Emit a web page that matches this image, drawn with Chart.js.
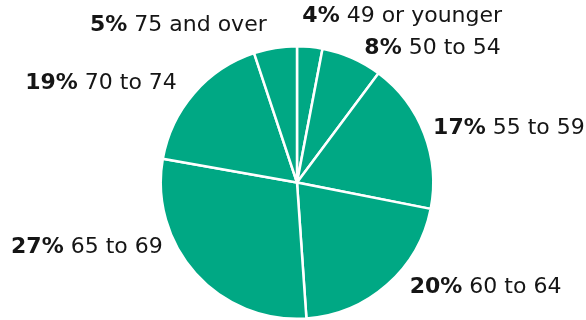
<!DOCTYPE html>
<html>
<head>
<meta charset="utf-8">
<script src="https://cdn.jsdelivr.net/npm/chart.js@4/dist/chart.umd.min.js"></script>
<style>
  html, body { margin: 0; padding: 0; background: #fff; }
  #wrap { width: 586px; height: 320px; position: relative; }
</style>
</head>
<body>
<div id="wrap"><canvas id="age-pie"></canvas></div>
<script>
// age groups, clockwise from 12 o'clock
var ageGroups = ["49 or younger", "50 to 54", "55 to 59", "60 to 64", "65 to 69", "70 to 74", "75 and over"];
// printed percentages
var pctLabels = [4, 8, 17, 20, 27, 19, 5];
// slice sizes as drawn in the picture (%)
var sliceShares = [3.0, 7.2, 17.9, 20.8, 28.9, 17.1, 5.1];

var FONT = "'DejaVu Sans', sans-serif";

// labels sit just outside each slice, nudged a bit to match the original layout
var outsideLabels = {
  id: 'outsideLabels',
  afterDatasetsDraw: function (chart, args, opts) {
    var ctx = chart.ctx;
    var meta = chart.getDatasetMeta(0);
    ctx.save();
    ctx.textBaseline = 'middle';
    ctx.fillStyle = opts.color;
    meta.data.forEach(function (arc, i) {
      var p = arc.getProps(['x', 'y', 'startAngle', 'endAngle', 'outerRadius'], true);
      var a = (p.startAngle + p.endAngle) / 2;
      var r = p.outerRadius + opts.offset;
      var nudge = opts.nudges[i] || [0, 0];
      var x = p.x + Math.cos(a) * r + nudge[0];
      var y = p.y + Math.sin(a) * r + nudge[1];
      var bold = pctLabels[i] + '%';
      var rest = ' ' + ageGroups[i];
      ctx.font = 'bold ' + opts.size + 'px ' + FONT;
      var wb = ctx.measureText(bold).width;
      ctx.font = opts.size + 'px ' + FONT;
      var wr = ctx.measureText(rest).width;
      var left = Math.cos(a) >= 0 ? x : x - wb - wr;
      ctx.font = 'bold ' + opts.size + 'px ' + FONT;
      ctx.textAlign = 'left';
      ctx.fillText(bold, left, y);
      ctx.font = opts.size + 'px ' + FONT;
      ctx.fillText(rest, left + wb, y);
    });
    ctx.restore();
  }
};

var ctx = document.getElementById('age-pie').getContext('2d');
var chart = new Chart(ctx, {
  type: 'pie',
  data: {
    labels: ageGroups,
    datasets: [{
      data: sliceShares,
      backgroundColor: '#00a884',
      borderColor: '#ffffff',
      borderWidth: 2.5
    }]
  },
  options: {
    responsive: true,
    maintainAspectRatio: false,
    animation: false,
    layout: { padding: { top: 45, bottom: 0, left: 8, right: 0 } },
    plugins: {
      legend: { display: false },
      tooltip: { enabled: false },
      outsideLabels: {
        color: '#151515',
        size: 22,
        offset: 16,
        nudges: [[-9, -15], [6, 5], [-6, 0], [12, -9], [-21, -37], [-5, 0], [-6, -7]]
      }
    }
  },
  plugins: [outsideLabels]
});
</script>
</body>
</html>
